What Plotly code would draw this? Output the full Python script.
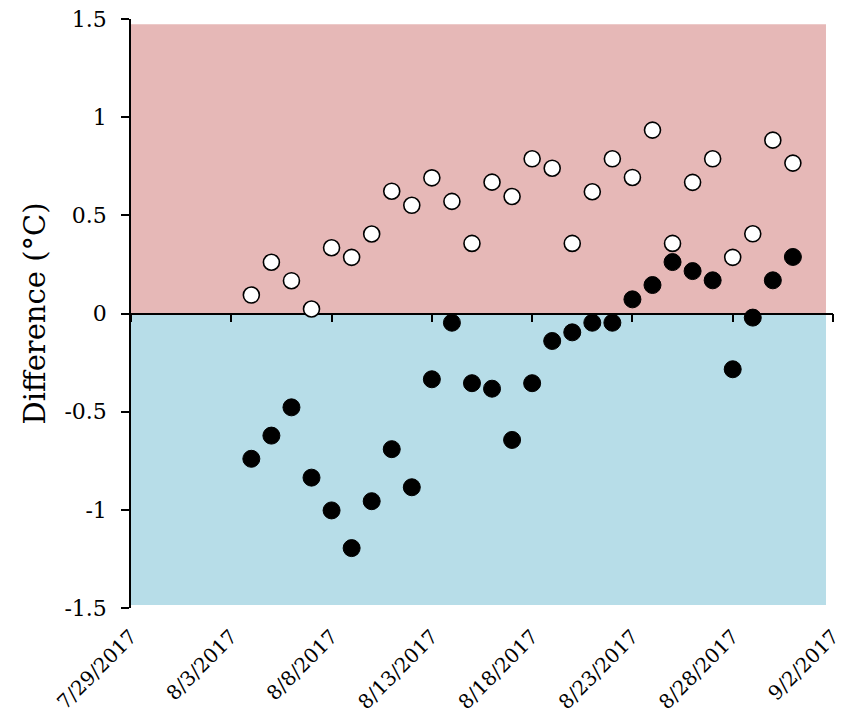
import plotly.graph_objects as go

# ---- data ----
dates = ["2017-08-04", "2017-08-05", "2017-08-06", "2017-08-07", "2017-08-08",
         "2017-08-09", "2017-08-10", "2017-08-11", "2017-08-12", "2017-08-13",
         "2017-08-14", "2017-08-15", "2017-08-16", "2017-08-17", "2017-08-18",
         "2017-08-19", "2017-08-20", "2017-08-21", "2017-08-22", "2017-08-23",
         "2017-08-24", "2017-08-25", "2017-08-26", "2017-08-27", "2017-08-28",
         "2017-08-29", "2017-08-30", "2017-08-31"]

open_values = [0.094, 0.261, 0.167, 0.023, 0.335, 0.286, 0.405, 0.623, 0.551, 0.691,
               0.571, 0.357, 0.669, 0.596, 0.788, 0.740, 0.357, 0.620, 0.788, 0.693,
               0.934, 0.357, 0.668, 0.788, 0.286, 0.406, 0.883, 0.766]

filled_values = [-0.740, -0.622, -0.478, -0.836, -1.003, -1.195, -0.956, -0.691, -0.885, -0.335,
                 -0.047, -0.355, -0.383, -0.644, -0.355, -0.140, -0.096, -0.047, -0.047, 0.072,
                 0.145, 0.262, 0.216, 0.169, -0.284, -0.021, 0.169, 0.288]

tick_dates = ["2017-07-29", "2017-08-03", "2017-08-08", "2017-08-13",
              "2017-08-18", "2017-08-23", "2017-08-28", "2017-09-02"]
tick_labels = ["7/29/2017", "8/3/2017", "8/8/2017", "8/13/2017",
               "8/18/2017", "8/23/2017", "8/28/2017", "9/2/2017"]

y_ticks = [-1.5, -1, -0.5, 0, 0.5, 1, 1.5]
y_tick_labels = ["-1.5", "-1", "-0.5", "0", "0.5", "1", "1.5"]

x_range = ["2017-07-29", "2017-09-02"]
y_range = [-1.5, 1.5]

warm_band = [0, 1.473]
cool_band = [-1.485, 0]

FONT = "DejaVu Serif"

fig = go.Figure()

fig.add_trace(go.Scatter(
    x=dates, y=filled_values, mode="markers", name="filled",
    marker=dict(color="black", size=17, line=dict(color="black", width=1)),
    showlegend=False,
))
fig.add_trace(go.Scatter(
    x=dates, y=open_values, mode="markers", name="open",
    marker=dict(color="white", size=16, line=dict(color="black", width=1.6)),
    showlegend=False,
))
# invisible trace on the zero-crossing axis
fig.add_trace(go.Scatter(
    x=x_range, y=[0, 0], xaxis="x2", mode="lines",
    line=dict(width=0), hoverinfo="skip", showlegend=False,
))

fig.add_shape(type="rect", xref="paper", yref="y", x0=0, x1=0.99,
              y0=warm_band[0], y1=warm_band[1], fillcolor="#E6B8B7",
              line=dict(width=0), layer="below")
fig.add_shape(type="rect", xref="paper", yref="y", x0=0, x1=0.99,
              y0=cool_band[0], y1=cool_band[1], fillcolor="#B7DDE8",
              line=dict(width=0), layer="below")

fig.update_layout(
    width=850, height=721,
    margin=dict(l=131, r=17, t=19, b=113),
    paper_bgcolor="white", plot_bgcolor="white",
    font=dict(family=FONT, color="black"),
    xaxis=dict(
        type="date", range=x_range, automargin=False,
        tickmode="array", tickvals=tick_dates, ticktext=tick_labels,
        tickangle=-45, tickfont=dict(size=20, family=FONT),
        showgrid=False, zeroline=False, showline=False, ticks="",
        ticklabelstandoff=12,
    ),
    xaxis2=dict(
        type="date", range=x_range, overlaying="x", anchor="free", position=0.5,
        automargin=False,
        tickmode="array", tickvals=tick_dates, showticklabels=False,
        ticks="outside", ticklen=8, tickwidth=1.5, tickcolor="black",
        showline=True, linecolor="black", linewidth=1.5,
        showgrid=False, zeroline=False, layer="below traces",
    ),
    yaxis=dict(
        range=y_range, automargin=False,
        tickmode="array", tickvals=y_ticks, ticktext=y_tick_labels,
        tickfont=dict(size=22, family=FONT),
        ticks="outside", ticklen=8, tickwidth=1.5, tickcolor="black",
        showline=True, linecolor="black", linewidth=1.5,
        showgrid=False, zeroline=False, ticklabelstandoff=10,
        title=dict(text="Difference (°C)", font=dict(size=29, family=FONT), standoff=10),
    ),
)

fig.write_html("out.html", config={"displayModeBar": False},
               post_script="document.body.style.margin='0';document.body.style.padding='0';")
